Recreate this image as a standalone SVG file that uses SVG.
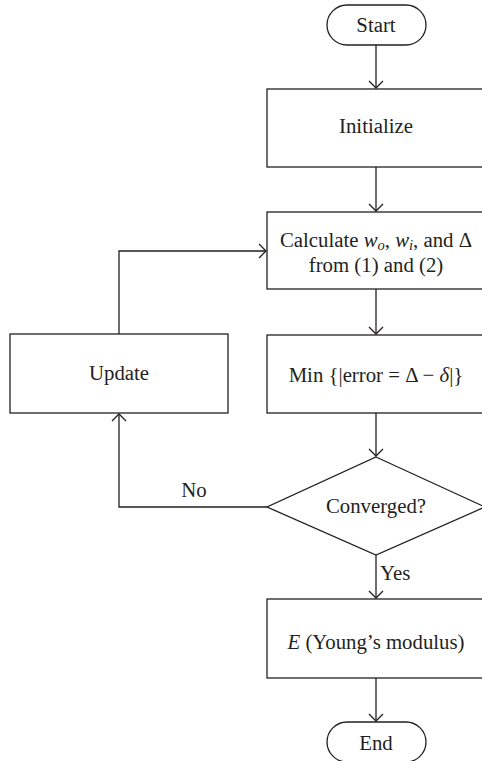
<svg xmlns="http://www.w3.org/2000/svg" width="482" height="761" viewBox="0 0 482 761">
<defs>
<style>
.s{fill:#fff;stroke:#231f20;stroke-width:1.3}
.c{fill:none;stroke:#231f20;stroke-width:1.3}
text{font-family:"Liberation Serif","Times New Roman",serif;font-size:20.8px;fill:#231f20;text-anchor:middle}
.i{font-style:italic}
</style>
<marker id="a" markerWidth="16" markerHeight="16" refX="8" refY="8" orient="auto" markerUnits="userSpaceOnUse">
<path d="M1,1 L8,8 L1,15" fill="none" stroke="#231f20" stroke-width="1.3"/>
</marker>
</defs>
<g id="connectors">
<path class="c" d="M376,45 V88" marker-end="url(#a)"/>
<path class="c" d="M376,167 V211" marker-end="url(#a)"/>
<path class="c" d="M376,289 V334" marker-end="url(#a)"/>
<path class="c" d="M376,413 V456" marker-end="url(#a)"/>
<path class="c" d="M376,555 V598" marker-end="url(#a)"/>
<path class="c" d="M376,678 V721" marker-end="url(#a)"/>
<path class="c" d="M119,334 V251 H266" marker-end="url(#a)"/>
<path class="c" d="M267,507 H119 V414" marker-end="url(#a)"/>
<text x="194" y="497">No</text>
<text x="380" y="580" style="text-anchor:start">Yes</text>
</g>
<g id="start">
<rect class="s" x="327" y="5" width="99" height="40" rx="20"/>
<text x="376" y="32">Start</text>
</g>
<g id="initialize">
<rect class="s" x="267" y="89" width="218" height="78"/>
<text x="376" y="133">Initialize</text>
</g>
<g id="calculate">
<rect class="s" x="267" y="212" width="218" height="77"/>
<text x="376" y="247">Calculate <tspan class="i">w</tspan><tspan class="i" font-size="14.5" dy="3">o</tspan><tspan dy="-3">, </tspan><tspan class="i">w</tspan><tspan class="i" font-size="14.5" dy="3">i</tspan><tspan dy="-3">, and Δ</tspan></text>
<text x="376" y="272">from (1) and (2)</text>
</g>
<g id="min">
<rect class="s" x="267" y="335" width="218" height="78"/>
<text x="376" y="382">Min {|error = Δ − <tspan class="i">δ</tspan>|}</text>
</g>
<g id="update">
<rect class="s" x="10" y="334" width="218" height="79"/>
<text x="119" y="380">Update</text>
</g>
<g id="converged">
<polygon class="s" points="376,457 485,507 376,555 267,507"/>
<text x="376" y="513">Converged?</text>
</g>
<g id="young">
<rect class="s" x="267" y="599" width="218" height="79"/>
<text x="376" y="649"><tspan class="i">E</tspan> (Young’s modulus)</text>
</g>
<g id="end">
<rect class="s" x="327" y="722" width="99" height="40" rx="20"/>
<text x="376" y="750">End</text>
</g>
</svg>
